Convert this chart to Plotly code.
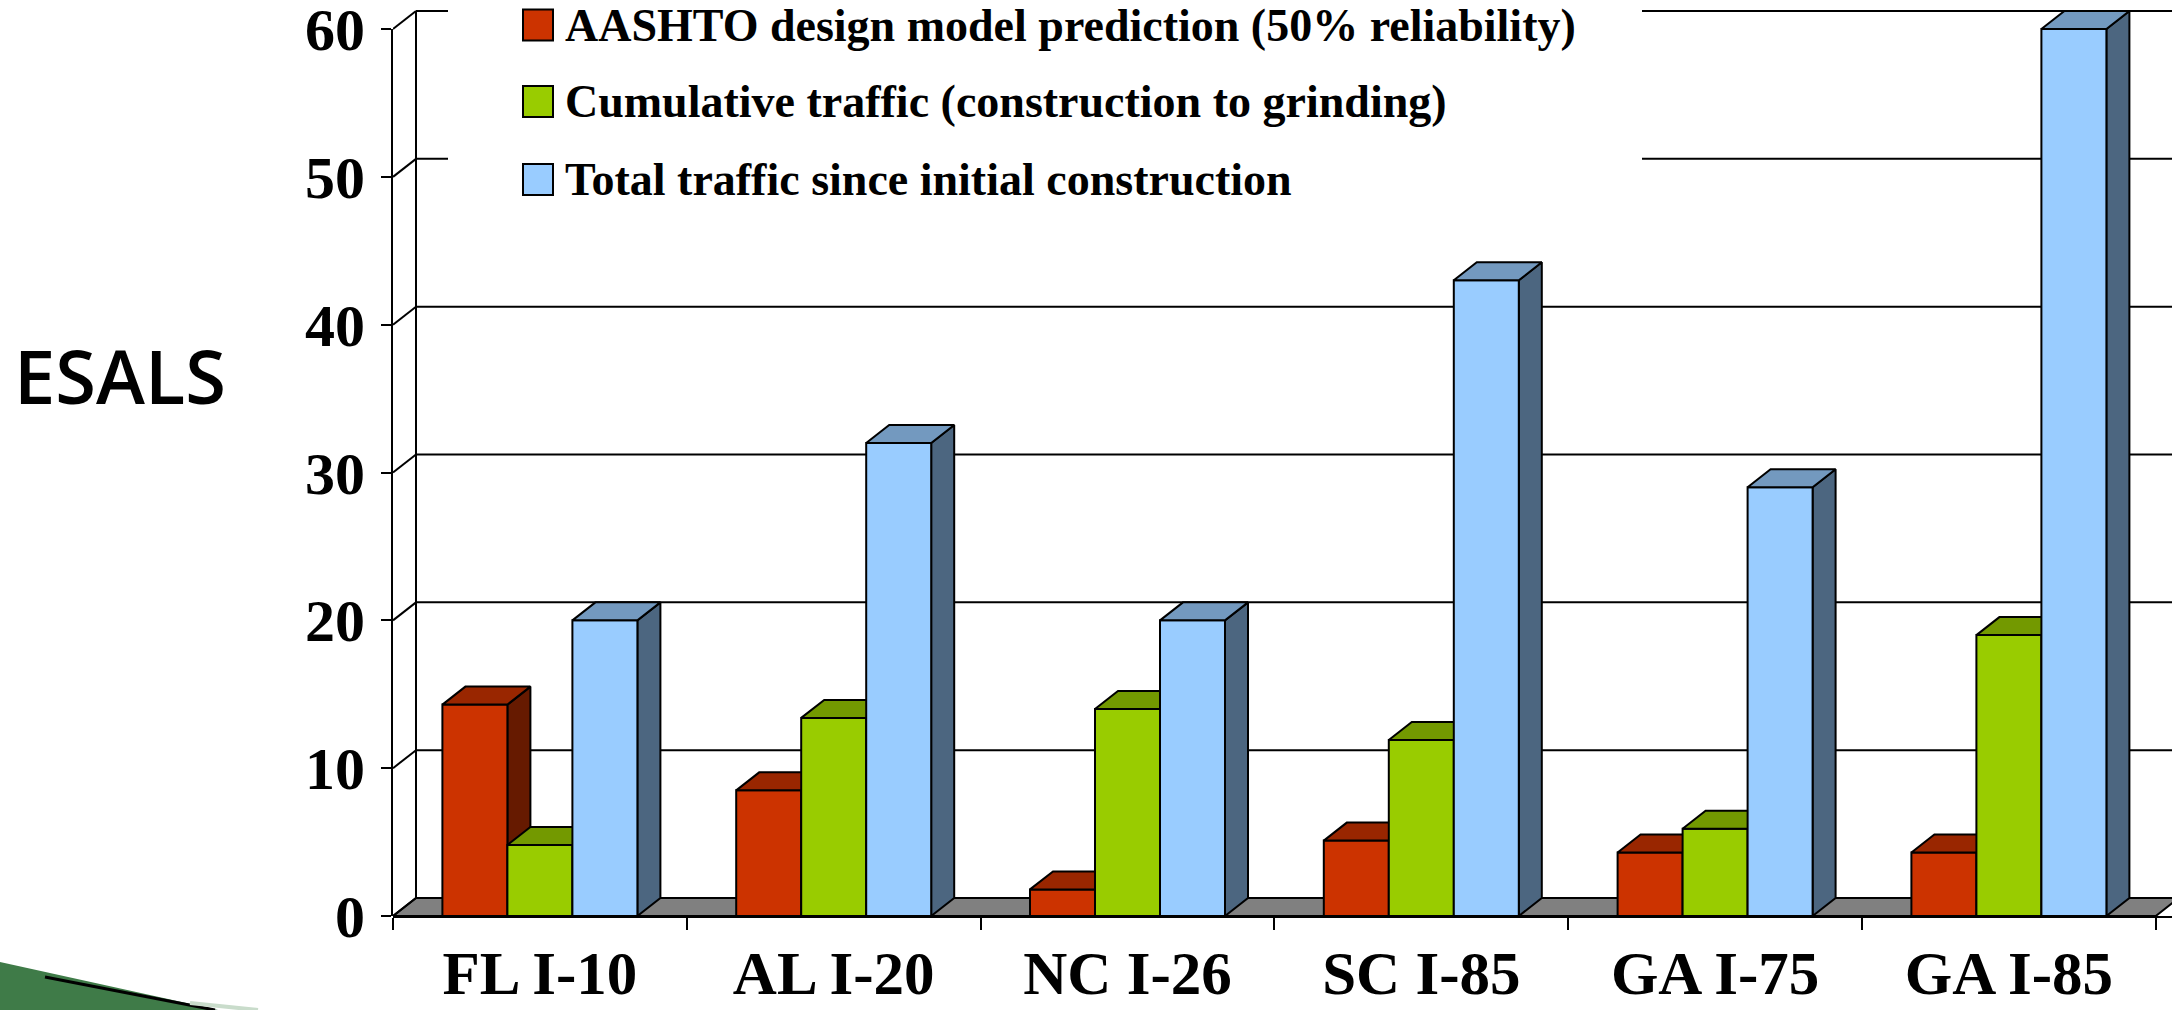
import plotly.graph_objects as go

# ---------------- data ----------------
categories = ["FL I-10", "AL I-20", "NC I-26", "SC I-85", "GA I-75", "GA I-85"]
aashto = [14.3, 8.5, 1.8, 5.1, 4.3, 4.3]
cumulative = [4.8, 13.4, 14.0, 11.9, 5.9, 19.0]
total = [20.0, 32.0, 20.0, 43.0, 29.0, 60.0]
series_names = [
    "AASHTO design model prediction (50% reliability)",
    "Cumulative traffic (construction to grinding)",
    "Total traffic since initial construction",
]
y_tick_vals = [0, 10, 20, 30, 40, 50, 60]
y_axis_title = "ESALS"

# ---------------- styles / geometry ----------------
FIG_W, FIG_H = 2172, 1010
M_L, M_R, M_T, M_B = 393, 0, 0, 94
PW = FIG_W - M_L - M_R
PH = FIG_H - M_T - M_B
PX_PER_CAT = 293.8
PX_PER_VAL = 14.783
DX = 23 / PX_PER_CAT          # depth offset in x units
DY = 18 / PX_PER_VAL          # depth offset in y units
BAR_W = 65 / PX_PER_CAT
X_LO = 0.5
X_HI = X_LO + PW / PX_PER_CAT
Y_HI = PH / PX_PER_VAL
Y_TOP = max(y_tick_vals)

front_colors = ["#CC3300", "#99CC00", "#99CCFF"]
top_colors = ["#992600", "#739900", "#7399BF"]
side_colors = ["#661A00", "#4D6600", "#4C6680"]
EDGE = dict(color="black", width=2)
SERIF = "Liberation Serif, Times New Roman, serif"

xpos = list(range(1, len(categories) + 1))
series = [aashto, cumulative, total]

fig = go.Figure()

# floor
floor_x = [X_LO, xpos[-1] + 0.5, xpos[-1] + 0.5 + DX, X_LO + DX, X_LO]
floor_y = [0, 0, DY, DY, 0]
fig.add_trace(go.Scatter(x=floor_x, y=floor_y, fill="toself", fillcolor="#808080",
                         mode="lines", line=EDGE, hoverinfo="skip", showlegend=False))

# back wall gridlines, connectors and back vertical line
gx, gy = [], []
for v in y_tick_vals:
    gx += [X_LO + DX, X_HI, None]
    gy += [v + DY, v + DY, None]
    gx += [X_LO, X_LO + DX, None]
    gy += [v, v + DY, None]
gx += [X_LO + DX, X_LO + DX, None]
gy += [DY, Y_TOP + DY, None]
fig.add_trace(go.Scatter(x=gx, y=gy, mode="lines", line=EDGE,
                         hoverinfo="skip", showlegend=False))

# 3-D bars
n = len(series)
for i, vals in enumerate(series):
    sx, sy, fx, fy, tx, ty = [], [], [], [], [], []
    for c, v in zip(xpos, vals):
        x0 = c - n * BAR_W / 2 + i * BAR_W
        x1 = x0 + BAR_W
        sx += [x1, x1 + DX, x1 + DX, x1, x1, None]
        sy += [0, DY, v + DY, v, 0, None]
        fx += [x0, x1, x1, x0, x0, None]
        fy += [0, 0, v, v, 0, None]
        tx += [x0, x1, x1 + DX, x0 + DX, x0, None]
        ty += [v, v, v + DY, v + DY, v, None]
    for xs, ys, col in ((sx, sy, side_colors[i]), (fx, fy, front_colors[i]), (tx, ty, top_colors[i])):
        fig.add_trace(go.Scatter(x=xs, y=ys, fill="toself", fillcolor=col, mode="lines",
                                 line=EDGE, hoverinfo="skip", showlegend=False,
                                 name=series_names[i]))

# invisible trace carrying the visible value axis
fig.add_trace(go.Scatter(x=[xpos[0]], y=[0], yaxis="y2", mode="markers",
                         marker=dict(opacity=0), hoverinfo="skip", showlegend=False))


def px_x(px):
    return (px - M_L) / PW


def px_y(py):
    return (M_T + PH - py) / PH


shapes = []
annotations = []

# legend block
shapes.append(dict(type="rect", xref="paper", yref="paper", layer="above",
                   x0=px_x(448), x1=px_x(1642), y0=px_y(205), y1=px_y(0),
                   fillcolor="white", line=dict(width=0)))
legend_rows = [25, 101.5, 179.5]
for i, name in enumerate(series_names):
    cy = legend_rows[i]
    shapes.append(dict(type="rect", xref="paper", yref="paper", layer="above",
                       x0=px_x(523), x1=px_x(553), y0=px_y(cy + 15.5), y1=px_y(cy - 15.5),
                       fillcolor=front_colors[i], line=dict(color="black", width=2)))
    annotations.append(dict(xref="paper", yref="paper", x=px_x(563), y=px_y(cy),
                            xanchor="left", yanchor="middle", showarrow=False, text=name,
                            font=dict(family=SERIF, size=46, color="black", weight="bold")))

# axis title
annotations.append(dict(xref="paper", yref="paper", x=px_x(120), y=px_y(376),
                        xanchor="center", yanchor="middle", showarrow=False, text=y_axis_title,
                        font=dict(family="Open Sans, sans-serif", size=74, color="black", weight=600)))

# decorative slide swoosh (bottom-left)
path_fill = "M {},{} L {},{} L {},{} Z".format(px_x(0), px_y(962), px_x(218), px_y(1010),
                                               px_x(0), px_y(1010))
shapes.append(dict(type="path", xref="paper", yref="paper", layer="above", path=path_fill,
                   fillcolor="#3F7B48", line=dict(width=0)))
shapes.append(dict(type="line", xref="paper", yref="paper", layer="above",
                   x0=px_x(45), y0=px_y(977), x1=px_x(215), y1=px_y(1010),
                   line=dict(color="black", width=3)))
shapes.append(dict(type="line", xref="paper", yref="paper", layer="above",
                   x0=px_x(190), y0=px_y(1003), x1=px_x(258), y1=px_y(1010),
                   line=dict(color="#C9DCCB", width=4)))

fig.update_layout(
    width=FIG_W, height=FIG_H,
    margin=dict(l=M_L, r=M_R, t=M_T, b=M_B, pad=0),
    paper_bgcolor="white", plot_bgcolor="rgba(0,0,0,0)",
    showlegend=False,
    shapes=shapes, annotations=annotations,
    xaxis=dict(range=[X_LO, X_HI], tickmode="array", tickvals=xpos, ticktext=categories,
               ticks="", showgrid=False, zeroline=False, showline=True, linecolor="black",
               linewidth=2, anchor="y", automargin=False, fixedrange=True,
               ticklabelstandoff=3, ticklabeloverflow="allow",
               tickfont=dict(family=SERIF, size=61, color="black", weight="bold"),
               minor=dict(tickmode="array", tickvals=[c - 0.5 for c in xpos] + [xpos[-1] + 0.5],
                          ticks="outside", ticklen=12, tickwidth=2, tickcolor="black",
                          showgrid=False)),
    yaxis=dict(range=[0, Y_HI], visible=False, fixedrange=True),
    yaxis2=dict(range=[0, Y_TOP], domain=[0, Y_TOP / Y_HI], anchor="x", side="left",
                tickmode="array", tickvals=y_tick_vals, ticks="outside", ticklen=10,
                tickwidth=2, tickcolor="black", showline=True, linecolor="black", linewidth=2,
                showgrid=False, zeroline=False, automargin=False, fixedrange=True,
                ticklabelstandoff=4, ticklabeloverflow="allow",
                tickfont=dict(family=SERIF, size=60, color="black", weight="bold")),
)

fig.write_html("out.html", config={"displayModeBar": False},
               post_script="document.body.style.margin='0';document.body.style.overflow='hidden';")
